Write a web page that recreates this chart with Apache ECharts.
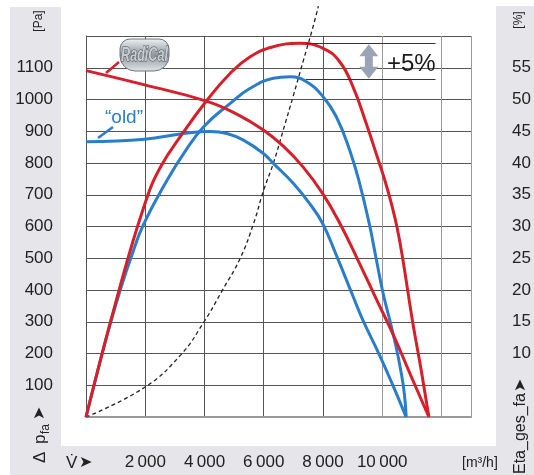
<!DOCTYPE html>
<html><head><meta charset="utf-8">
<script src="https://cdn.jsdelivr.net/npm/echarts@6/dist/echarts.min.js"></script>
<style>html,body{margin:0;padding:0;background:#fff}#c{width:534px;height:475px}</style>
</head><body><div id="c"></div>
<script>
// ---- tick labels ----
const flowTickValues = [2000, 4000, 6000, 8000, 10000];
const flowTickLabels = ['2\u2009000', '4\u2009000', '6\u2009000', '8\u2009000', '10\u2009000'];
const pressureTickValues = [100, 200, 300, 400, 500, 600, 700, 800, 900, 1000, 1100];
const pressureTickLabels = ['100', '200', '300', '400', '500', '600', '700', '800', '900', '1000', '1100'];
const etaTickValues = [10, 15, 20, 25, 30, 35, 40, 45, 50, 55];
const etaTickLabels = ['10', '15', '20', '25', '30', '35', '40', '45', '50', '55'];

// ---- series data: [flow m3/h, value] ----
// RadiCal static pressure [Pa]
const radicalPressure = [[0,1091],[1982,1046],[4064,995],[5091,954],[5988,904],[6660,853],[7332,787],[7980,705],[8564,611],[9212,488],[9817,368],[10378,258],[10959,132],[11575,0]];
// "old" static pressure [Pa]
const oldPressure = [[0,867],[1982,875],[3301,893],[4198,899],[4756,893],[5316,872],[5988,830],[6324,799],[6996,736],[7557,671],[7980,611],[8450,510],[9011,381],[9347,305],[9908,195],[10354,101],[10805,0]];
// RadiCal efficiency [%]
const radicalEta = [[0,0],[1061,19.05],[1982,33.5],[2519,39.4],[3301,44.93],[4064,49.76],[4870,54.13],[5542,56.74],[6324,58.31],[7197,58.85],[8003,58.06],[8564,55.95],[9011,52.02],[9458,46.25],[9793,41.53],[10086,37.32],[10321,33.39],[10505,29.76],[10690,24.99],[11026,15.01],[11305,7.67],[11575,0]];
// "old" efficiency [%]
const oldEta = [[0,0],[504,9.24],[840,15.01],[1175,20.27],[1511,24.99],[1934,30.24],[2741,37.32],[3301,41.53],[3973,45.72],[4870,49.4],[5542,51.76],[6324,53.34],[6885,53.59],[7443,52.8],[8003,50.44],[8450,47.29],[8900,42.05],[9236,36.8],[9572,30.24],[9793,24.99],[10018,19.73],[10253,15.28],[10455,11.34],[10623,7.4],[10740,3.94],[10810,0]];
// system (dashed) curve [Pa]
const systemCurve = [[0,0],[1982,93.5],[3191,195],[3973,298],[4578,395],[5206,500],[5662,611],[5988,712],[6324,799],[6660,904],[6996,1011],[7332,1121],[7644,1222],[7845,1294]];

// +5% annotation: efficiency levels of the two peak marker lines [%] and their flow range
const peakLineLevels = [58.85, 53.25];
const annotStartFlow = 7420, annotEndFlow = 11800, arrowFlow = 9548;

const RED = '#d61f28', BLUE = '#2a7dcb', TXT = '#222', GRAYBG = '#e5e5ea';
const FONT = "'Liberation Sans', Arial, sans-serif";

function mapLabel(vals, labels) {
  return v => { const i = vals.indexOf(Math.round(v * 1000) / 1000); return i >= 0 ? labels[i] : ''; };
}

const chart = echarts.init(document.getElementById('c'), null, {renderer: 'canvas'});
const SM = 0.45;
const option = {
  animation: false,
  backgroundColor: '#fff',
  grid: {left: 86, top: 36, width: 386, height: 381},
  xAxis: {
    type: 'value', min: 0, max: 13000, interval: 2000,
    axisLine: {show: true, lineStyle: {color: '#999', width: 2}},
    axisTick: {show: false},
    axisLabel: {margin: 37, color: TXT, fontFamily: FONT, fontSize: 17, formatter: mapLabel(flowTickValues, flowTickLabels)},
    splitLine: {show: true, lineStyle: {color: ['#555','#555','#555','#555','#555','#999','#999','#999'], width: 1}}
  },
  yAxis: [{
    type: 'value', min: 0, max: 1200, interval: 100,
    axisLine: {show: true, lineStyle: {color: '#555', width: 1}},
    axisTick: {show: false},
    axisLabel: {margin: 33, color: TXT, fontFamily: FONT, fontSize: 17, formatter: mapLabel(pressureTickValues, pressureTickLabels)},
    splitLine: {show: true, lineStyle: {color: '#555', width: 1}}
  }, {
    type: 'value', min: 0, max: 60, interval: 5, position: 'right',
    axisLine: {show: false}, axisTick: {show: false},
    axisLabel: {margin: 41, color: TXT, fontFamily: FONT, fontSize: 17, formatter: mapLabel(etaTickValues, etaTickLabels)},
    splitLine: {show: false}
  }],
  series: [
    {type: 'line', name: 'system', data: systemCurve, yAxisIndex: 0, smooth: SM, showSymbol: false, clip: false,
     lineStyle: {color: '#222', width: 1.3, type: [4, 3]}, z: 1},
    {type: 'line', name: 'old p', data: oldPressure, yAxisIndex: 0, smooth: SM, showSymbol: false,
     lineStyle: {color: BLUE, width: 3}, z: 2},
    {type: 'line', name: 'old eta', data: oldEta, yAxisIndex: 1, smooth: SM, showSymbol: false,
     lineStyle: {color: BLUE, width: 3}, z: 2,
     markLine: {silent: true, symbol: 'none', label: {show: false}, lineStyle: {color: '#333', width: 1, type: 'solid'},
       data: peakLineLevels.map(l => [{coord: [annotStartFlow, l]}, {coord: [annotEndFlow, l]}])}},
    {type: 'line', name: 'RadiCal p', data: radicalPressure, yAxisIndex: 0, smooth: SM, showSymbol: false,
     lineStyle: {color: RED, width: 3}, z: 3},
    {type: 'line', name: 'RadiCal eta', data: radicalEta, yAxisIndex: 1, smooth: SM, showSymbol: false,
     lineStyle: {color: RED, width: 3}, z: 3}
  ]
};
chart.setOption(option);

const yTop = chart.convertToPixel({yAxisIndex: 1}, peakLineLevels[0]) + 1;
const yBot = chart.convertToPixel({yAxisIndex: 1}, peakLineLevels[1]);
const ax = chart.convertToPixel({xAxisIndex: 0}, arrowFlow);
const hw = 9.5, sw = 4, hh = 12;
const arrowPts = [[ax, yTop], [ax + hw, yTop + hh], [ax + sw, yTop + hh], [ax + sw, yBot - hh], [ax + hw, yBot - hh], [ax, yBot],
                  [ax - hw, yBot - hh], [ax - sw, yBot - hh], [ax - sw, yTop + hh], [ax - hw, yTop + hh]];

const t = (x, y, text, size, extra) => Object.assign({type: 'text', x: x, y: y, z: 50,
  style: Object.assign({text: text, font: size + 'px ' + FONT, fill: TXT, textAlign: 'left', textVerticalAlign: 'middle'}, extra || {})});

chart.setOption({graphic: [
  // gray frame strips
  {type: 'rect', z: -10, shape: {x: 10, y: 7, width: 51, height: 468}, style: {fill: GRAYBG}},
  {type: 'rect', z: -10, shape: {x: 496, y: 6, width: 38, height: 469}, style: {fill: GRAYBG}},
  {type: 'rect', z: -10, shape: {x: 10, y: 446, width: 524, height: 29}, style: {fill: GRAYBG}},
  // unit labels
  {type: 'text', x: 39, y: 21, rotation: Math.PI / 2, z: 50, style: {text: '[Pa]', font: '12px ' + FONT, fill: TXT, textAlign: 'center', textVerticalAlign: 'middle'}},
  {type: 'text', x: 519, y: 20, rotation: Math.PI / 2, z: 50, style: {text: '[%]', font: '12px ' + FONT, fill: TXT, textAlign: 'center', textVerticalAlign: 'middle'}},
  t(462, 463, '[m\u00b3/h]', 14),
  // V-dot label
  t(66, 463, 'V\u0307', 17),
  t(79, 463, '\u27a4', 16, {font: "16px 'DejaVu Sans', sans-serif"}),
  // delta p_fa label
  {type: 'group', x: 40, y: 463, rotation: Math.PI / 2, z: 50, children: [
    t(0, 0, '\u0394', 17), t(19, 0, 'p', 17), t(29, 6, 'fa', 12),
    t(43, 0, '\u27a4', 16, {font: "16px 'DejaVu Sans', sans-serif"})
  ]},
  // Eta_ges_fa label
  {type: 'group', x: 521, y: 474, rotation: Math.PI / 2, z: 50, children: [
    t(0, 0, 'Eta_ges_fa', 16), t(82, 0, '\u27a4', 16, {font: "16px 'DejaVu Sans', sans-serif"})
  ]},
  // +5% annotation
  {type: 'polygon', z: 40, shape: {points: arrowPts}, style: {fill: '#9aa4b6'}},
  t(387, 64, '+5%', 24, {fill: '#1a1a1a'}),
  // RadiCal badge
  {type: 'line', z: 40, shape: {x1: 106, y1: 73, x2: 119, y2: 62}, style: {stroke: RED, lineWidth: 2.5}},
  {type: 'rect', z: 41, shape: {x: 120, y: 39, width: 49, height: 32, r: [10, 10, 15, 15]},
   style: {fill: new echarts.graphic.LinearGradient(0, 0, 0, 1, [{offset: 0, color: '#f2f3f5'}, {offset: 0.5, color: '#8e959d'}, {offset: 1, color: '#e3e6e9'}]), stroke: '#6f757c', lineWidth: 1}},
  {type: 'text', x: 144.5, y: 55, scaleX: 0.6, z: 42, style: {text: 'RadiCal', font: "italic bold 21px " + FONT, fill: '#c9cdd2', stroke: '#444a50', lineWidth: 1, textAlign: 'center', textVerticalAlign: 'middle'}},
  // old label
  {type: 'line', z: 40, shape: {x1: 98, y1: 138, x2: 113, y2: 127}, style: {stroke: BLUE, lineWidth: 2.5}},
  t(124, 118, '\u201cold\u201d', 19, {fill: BLUE, textAlign: 'center'})
]});
</script>
</body></html>
